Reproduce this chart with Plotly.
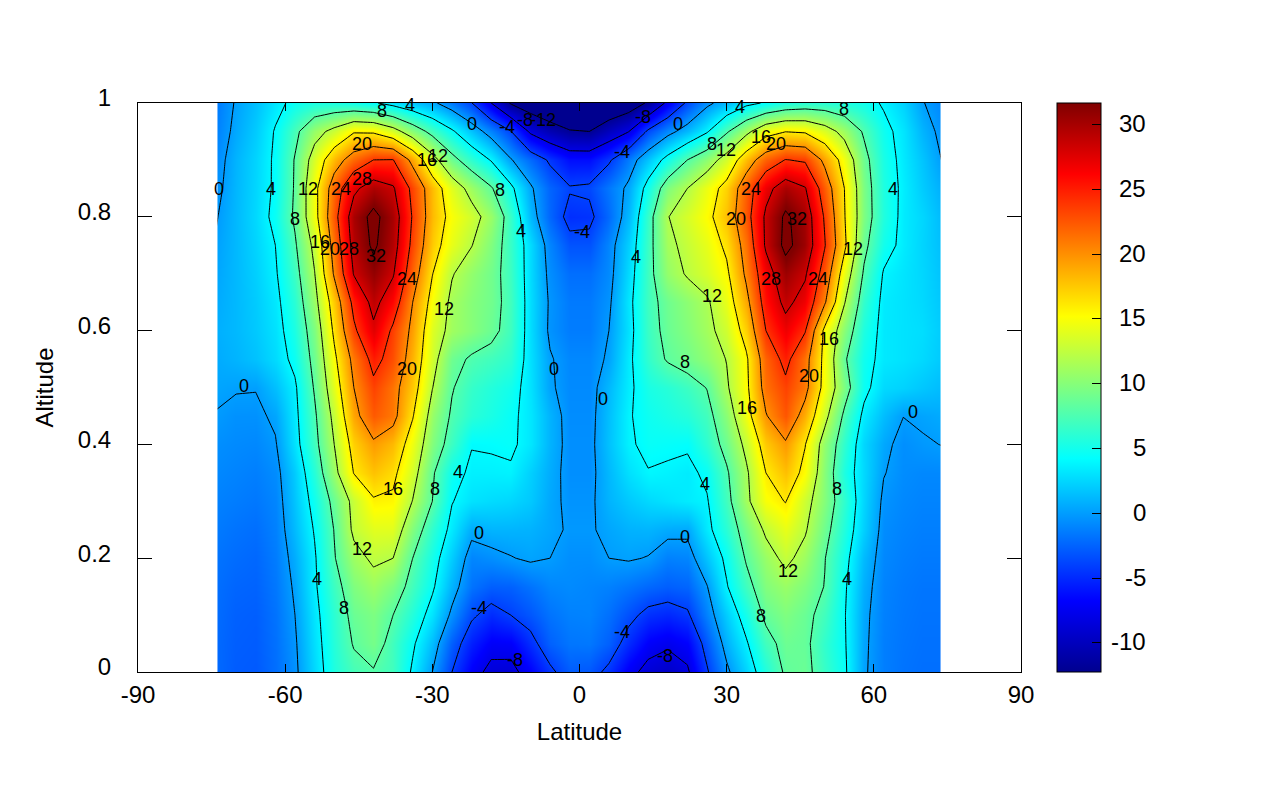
import plotly.graph_objects as go

lat = [-74, -70, -66, -62, -58, -54, -50, -46, -42, -38, -34, -30, -26, -22, -18, -14, -10, -6, -2,
       2, 6, 10, 14, 18, 22, 26, 30, 34, 38, 42, 46, 50, 54, 58, 62, 66, 70, 74]
alt = [0, .05, .1, .15, .2, .25, .3, .35, .4, .45, .5, .55, .6, .65, .7, .75, .8, .85, .9, .95, 1]

z = [
 [-2.2,-2.8,-2.9,-2,-0.5,2.6,5.6,7.2,7.8,7,3.6,0,-4,-7,-8.7,-8.8,-6.8,-4.5,-2.8,
  -3,-4.6,-7.2,-8.8,-9.5,-8.4,-4.3,-0.5,2.4,5.6,8.4,8.8,6.6,4.5,0.3,-1.3,-1.8,-2,-2],
 [-2.2,-2.7,-2.8,-1.9,-0.3,2.9,5.9,8.2,9.3,7,4.4,1.3,-2.7,-5.5,-7.1,-7,-4.8,-2.6,-1.7,
  -1.6,-2.6,-5,-7,-7.6,-6.8,-3,0.9,3.7,7,8.9,8.6,6.3,4.3,0.4,-1.3,-1.7,-1.9,-1.9],
 [-2.1,-2.6,-2.7,-1.8,0,3.2,6.2,8.8,9.6,8,5.7,3,-0.5,-3.6,-4.9,-4,-3,-1.8,-1.2,
  -1.1,-1.9,-3.3,-4.7,-5.1,-4.4,-1.2,2.1,5.2,8.6,9.7,8.8,7,4.2,0.5,-1.2,-1.6,-1.8,-1.8],
 [-2,-2.4,-2.5,-1.6,0.3,3.6,6.9,9.7,10.9,9.6,7,4.4,1,-1.8,-2.7,-2.6,-1.8,-1,-0.8,
  -1,-1.2,-1.7,-2.3,-2.7,-2.4,-0.1,3.8,7,9.8,10.8,9.7,7.9,4.4,0.8,-1.1,-1.5,-1.7,-1.7],
 [-1.8,-2.1,-2.3,-1.4,0.7,3.7,7.8,11,12.5,12,8,5.1,2.1,-1,-0.6,-0.1,0.3,0,-0.6,
  -0.6,0,0.2,-0.1,-1.2,-1,1.7,4.6,8.3,10.8,12.7,11,8.1,4.9,1.3,-0.9,-1.3,-1.5,-1.5],
 [-1.5,-1.8,-2,-1.2,1.3,4.2,8.1,12.6,13.9,13.9,9.8,6.2,3.3,0.6,1,1,0.9,0.4,-0.2,
  -0.2,0.4,0.9,1,0.6,0.5,3.3,6,9.4,12.5,14.2,12.3,9,5.6,2.2,-0.7,-1.1,-1.3,-1.3],
 [-1.2,-1.4,-1.6,-1,1.7,4.9,8.9,12.9,15.7,15.5,11.9,8,4.1,3,2.7,2.5,1.9,0.5,-0.4,
  -0.4,1,1.9,2.6,3,3.4,3.8,7,11.3,14.9,16.1,13.1,9.9,6.2,2.5,-0.4,-0.9,-1.1,-1.1],
 [-0.9,-1.1,-1.3,-0.7,2,5.9,11,16.1,17.8,16.7,13.3,8.4,4.8,3.6,3.6,3.7,2.2,0.7,-0.6,
  -0.6,1.2,2.9,3.9,3.7,3.4,4.5,7.6,11.5,16,17.9,15.2,10,5.4,2.6,0.1,-0.7,-0.9,-0.9],
 [-0.6,-0.8,-0.9,-0.2,3,7,12,17.2,19.5,18.2,14.5,9.8,6.8,4.1,4.2,4.4,3.2,1,-0.6,
  -0.6,1.6,3.7,4.5,4.4,4.3,6.2,9,12.8,17.5,19.6,16.1,10.5,6.2,2.5,0.5,-0.6,-0.2,0.05],
 [-0.1,-0.5,-0.5,0.4,3.3,7.5,12.9,19,22.3,21,16.2,10.7,7.6,6,5.3,4.5,3.2,1,-0.7,
  -0.7,1.5,3.8,4.8,5.3,5.8,7,10.2,14.7,19.8,22.5,18.7,13,7.4,3.4,1.4,0.03,0.3,0.6],
 [0.35,0.15,0.1,1.5,3.6,8.3,14.2,20,23.3,21.2,17.5,12.1,8.2,6.5,5.7,5,3,0.3,-0.8,
  -0.8,1.2,3.5,5.3,5.9,6.8,8.1,11.6,15.3,21.3,23.3,21,14.8,9.5,4.7,2.6,2.3,1.8,1.3],
 [0.6,1,1.6,2.7,4.7,9,15.3,21,25,22.8,18.4,13.2,9,7.6,7,6.2,2.9,0.2,-0.9,
  -0.9,0.3,3.4,6.4,8.3,9.2,10.4,12.1,15.5,21.9,24.9,21.3,15,8.4,4.9,3.3,3,2.6,1.9],
 [0.8,1.2,1.9,3,5.4,9.7,16.6,23.4,27.4,23.4,19.2,13.7,11.1,10,8.8,6.9,2.8,-0.4,-1.4,
  -1.4,0,3,6.8,8.8,9.9,11.2,13.2,17.3,24,26.8,24.2,15.2,10,5.5,3.3,3,2.8,2],
 [0.6,1.2,2,3.3,6,10.9,17.7,25,29,26,20,14.9,11.3,10,9.1,7,2.8,-0.3,-1.5,
  -1.5,-0.4,3.2,7,9,10.3,11.6,14.3,19,25.5,28.8,26.8,20.4,12.2,6.4,3.4,3,2.6,1.8],
 [0.4,1.2,2.2,3.7,6.8,11.9,20.4,28.2,30.8,28.3,21.8,16.1,12.2,10.5,9.1,6.8,2.7,-0.6,-2,
  -2,-0.8,2.7,7,10.6,12.3,13.5,15.4,20.6,26.4,30.4,28.4,22.4,14.2,7.6,3.8,3.1,2.5,1.6],
 [0.2,1.2,2.4,4,7.6,12.9,21.5,29.3,32.6,29.5,23.1,17.4,14.2,12.1,9.7,6.6,2.7,-1,-3.2,
  -3.2,-1,2.2,6.9,11.3,12.8,14.2,16.6,21.4,28.5,32.9,30.4,24.2,16.7,8.8,5,3.4,2.4,1.4],
 [-0.1,1.2,2.6,4.7,8.5,14.7,22.7,29.9,33,30,23.7,18.1,15,13.2,10.7,6.6,1.2,-2.3,-4.8,
  -4.6,-2.2,1.2,6.7,11.9,13.5,15.2,17.9,22.6,28.6,32.6,30.2,23.6,16.2,9.7,5.6,3.4,2.5,1.2],
 [-0.5,1.1,2.5,4.4,8.3,14.9,21.9,27.3,29.7,28.4,23.1,18,13.9,10.9,8.3,4.7,0.4,-2.4,-3.8,
  -3.6,-1.6,0.5,5.1,9.7,12,14.4,17.1,22.2,26.9,29.8,28.2,22.2,16,9.6,5.5,3.5,2,0.7],
 [-0.8,1,2.4,4.4,8.2,13.6,18.3,21.7,24,24.1,19,13.3,9,6.2,3.8,0.2,-2.2,-4.4,-6.2,
  -6.2,-4.4,-1.4,1.8,5,8,10.3,13.4,18.1,22,24.1,23.6,19.2,14.6,9,5.3,3.3,1.7,-0.1],
 [-1.2,0.5,2,4.2,7.2,10.7,13,15.7,15.5,13.4,10,7,4.4,1.6,-1.2,-3.9,-8.5,-10.5,-11.8,
  -12,-10,-8.1,-3.5,-0.9,1.2,3.7,7.6,11.1,14.6,15.9,15.6,13.6,10.9,7.6,4.8,3.1,1,-0.6],
 [-1.5,0.2,1.5,3.2,4.7,5.4,5.4,5,4.3,3,1.7,0.5,-1.5,-3.9,-8,-12.3,-14,-15,-15.5,
  -15.5,-15,-14,-11.6,-7.3,-3.5,-0.6,1.2,3.2,4.3,5.5,6,6,5.5,5,3.7,2.3,0.1,-1],
]

label_text = ["8","4","0","-4","-8","-12","20","16","12","28","0","4","12","24","8","8","16","20","28","32",
              "24","12","4","-4","20","0","0","16","8","4","12","0","4","8","-4","-8",
              "-8","0","8","12","4","16","20","8","-4","24","4","20","32","4","12","28","24","12","16","8","20",
              "0","16","0","4","8","0","12","4","8","-4","-8"]
label_lat = [-40.3,-34.6,-22,-14.8,-11.2,-7.5,-44.3,-31.1,-28.9,-44.3,-73.4,-62.8,-55.3,-48.6,-16.3,-58,-52.9,-50.8,-47,-41.5,
             -35.2,-27.7,-12,0.6,-35.2,-5.3,-68.3,-38,-29.5,-24.8,-44.3,-20.5,-53.5,-48,-20.5,-13.2,
             13,20.1,27,29.9,32.7,37,40.1,53.9,8.7,35,63.9,31.9,44.3,11.6,55.7,39,48.6,27,50.8,21.6,46.8,
             4.7,34.2,67.9,25.6,52.5,21.6,42.5,54.5,37,8.7,17.5]
label_alt = [.984,.993,.961,.956,.967,.967,.926,.898,.905,.863,.846,.846,.846,.846,.844,.793,.753,.740,.740,.728,
             .688,.635,.772,.770,.530,.530,.500,.319,.319,.349,.214,.242,.161,.109,.109,.018,
             .972,.960,.925,.914,.991,.937,.925,.986,.912,.846,.846,.793,.793,.726,.740,.688,.688,.658,.582,.542,.518,
             .477,.461,.454,.328,.319,.235,.175,.161,.096,.067,.026]

x_ticks = [-90, -60, -30, 0, 30, 60, 90]
y_ticks = [0, 0.2, 0.4, 0.6, 0.8, 1]
cb_ticks = [-10, -5, 0, 5, 10, 15, 20, 25, 30]
zmin, zmax = -12.25, 31.66
domain_west, domain_east = -73.8, 73.6

jet = [[0, "#00008f"], [0.125, "#0000ff"], [0.375, "#00ffff"], [0.625, "#ffff00"], [0.875, "#ff0000"], [1, "#800000"]]
FONT = "Liberation Sans, Arial, sans-serif"
W, H = 1280, 800
L, R, T, B = 138, 259, 103, 128
PW = W - L - R
CB_X0 = (1057.5 - L) / PW

fig = go.Figure()
fig.add_trace(go.Heatmap(
    x=lat, y=alt, z=z, zmin=zmin, zmax=zmax, zsmooth="best", colorscale=jet, hoverinfo="skip",
    colorbar=dict(x=CB_X0, xanchor="left", xpad=0, ypad=0, y=0.5, yanchor="middle", len=1, lenmode="fraction",
                  thickness=(1101 - 1057), thicknessmode="pixels", outlinewidth=1, outlinecolor="black",
                  ticks="inside", ticklen=9, tickwidth=1, tickcolor="black", tickmode="array", tickvals=cb_ticks,
                  showticklabels=False),
))
fig.add_trace(go.Contour(
    x=lat, y=alt, z=z, showscale=False, hoverinfo="skip",
    contours=dict(coloring="none", start=-12, end=32, size=4),
    line=dict(color="black", width=1, smoothing=0),
))

# trim the half cell that the smoothed image spreads beyond the model domain
for a, b in ((lat[0] - 3, domain_west), (domain_east, lat[-1] + 3)):
    fig.add_shape(type="rect", xref="x", yref="paper", x0=a, x1=b, y0=0, y1=1,
                  fillcolor="white", line_width=0, layer="above")

annotations = [dict(xref="x", yref="y", x=a, y=b, yshift=1.5, text=t, showarrow=False, xanchor="center", yanchor="middle",
                    font=dict(family=FONT, size=18, color="black"))
               for t, a, b in zip(label_text, label_lat, label_alt)]
for v in cb_ticks:
    frac = (v - zmin) / (zmax - zmin)
    annotations.append(dict(xref="paper", yref="paper", x=(1148 - L) / PW, y=frac, yshift=1, xanchor="right", yanchor="middle",
                            text=str(v), showarrow=False, font=dict(family=FONT, size=24, color="black")))
    fig.add_shape(type="line", xref="paper", yref="paper", x0=CB_X0, x1=CB_X0 + 9 / PW, y0=frac, y1=frac,
                  line=dict(color="black", width=1), layer="above")

axis = dict(showgrid=False, zeroline=False, showline=True, linecolor="black", linewidth=1, mirror="ticks",
            ticks="inside", tickwidth=1, tickcolor="black",
            tickfont=dict(family=FONT, size=24, color="black"))
fig.update_layout(
    width=W, height=H, margin=dict(l=L, r=R, t=T, b=B, pad=0), paper_bgcolor="white", plot_bgcolor="white",
    showlegend=False, annotations=annotations,
    xaxis=dict(range=[-90, 90], tickmode="array", tickvals=x_ticks, ticktext=[str(v) for v in x_ticks],
               ticklen=8, ticklabelstandoff=1,
               title=dict(text="Latitude", font=dict(family=FONT, size=24, color="black"), standoff=16), **axis),
    yaxis=dict(range=[0, 1], tickmode="array", tickvals=y_ticks, ticktext=["0", "0.2", "0.4", "0.6", "0.8", "1"],
               ticklen=14, ticklabelstandoff=21, ticklabelshift=-5,
               title=dict(text="Altitude", font=dict(family=FONT, size=24, color="black"), standoff=17), **axis),
)
fig.write_html("out.html", config={"displayModeBar": False},
               post_script="document.body.style.margin='0';document.body.style.overflow='hidden';")
